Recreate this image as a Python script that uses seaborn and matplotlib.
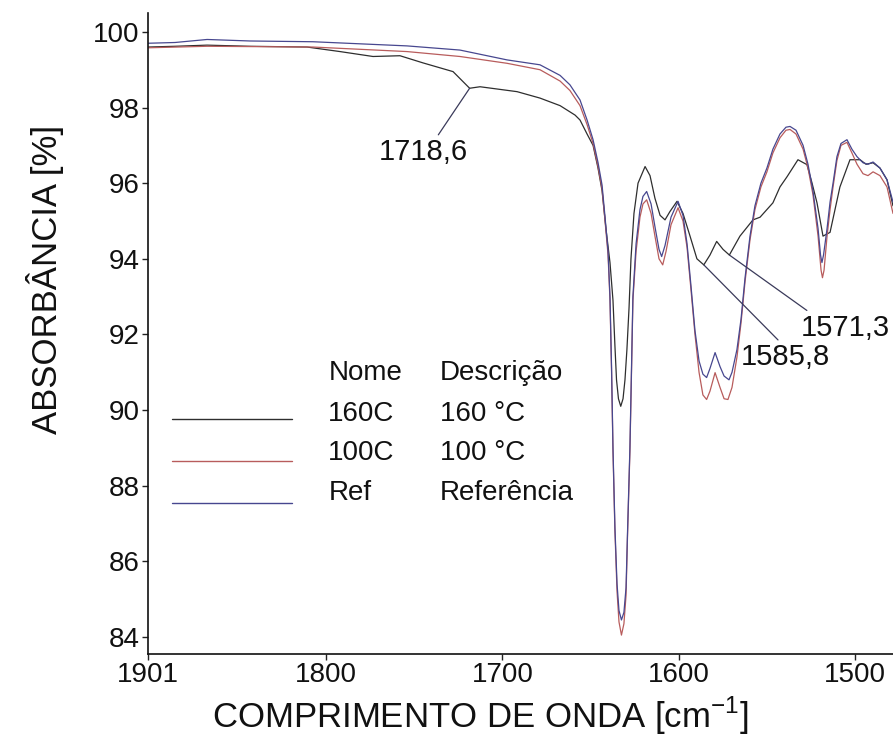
import numpy as np
import pandas as pd
import matplotlib
matplotlib.use("Agg")
import matplotlib.pyplot as plt
import seaborn as sns

# --- FTIR spectra (wavenumber in cm^-1, absorbance in %) ---
wn_160 = [1901.0, 1885.7, 1867.5, 1843.2, 1810.8, 1792.1, 1773.4, 1758.1, 1745.0, 1728.0,
          1718.6, 1712.7, 1691.7, 1678.7, 1667.3, 1658.8, 1656.0, 1652.0, 1648.6, 1645.8,
          1643.5, 1641.3, 1639.0, 1637.3, 1636.2, 1635.3, 1634.2, 1632.9, 1631.6, 1630.5,
          1629.4, 1628.2, 1627.1, 1625.4, 1623.1, 1619.1, 1616.3, 1613.5, 1610.6, 1607.8,
          1605.0, 1601.0, 1597.6, 1593.6, 1589.7, 1585.8, 1582.3, 1578.5, 1574.9, 1571.3,
          1565.3, 1557.9, 1553.9, 1546.6, 1542.6, 1538.6, 1532.4, 1527.3, 1524.4, 1521.6,
          1518.2, 1514.2, 1511.4, 1508.6, 1502.9, 1497.2, 1493.8, 1489.8, 1485.9, 1481.9,
          1478.5]
abs_160 = [99.60, 99.62, 99.65, 99.62, 99.60, 99.48, 99.35, 99.37, 99.18, 98.95,
           98.51, 98.55, 98.42, 98.25, 98.05, 97.80, 97.67, 97.30, 97.00, 96.40,
           95.80, 94.80, 93.90, 92.90, 91.70, 90.80, 90.30, 90.10, 90.30, 90.80,
           91.60, 92.70, 94.00, 95.20, 96.00, 96.44, 96.20, 95.60, 95.15, 95.03,
           95.25, 95.52, 95.20, 94.60, 94.00, 93.84, 94.10, 94.46, 94.25, 94.10,
           94.60, 95.03, 95.10, 95.48, 95.90, 96.17, 96.62, 96.49, 96.00, 95.48,
           94.60, 94.70, 95.30, 95.90, 96.62, 96.62, 96.50, 96.54, 96.40, 96.09,
           95.40]

wn_100 = [1901.0, 1867.5, 1807.4, 1754.1, 1724.1, 1697.4, 1678.7, 1667.3, 1661.7, 1656.0,
          1652.0, 1648.6, 1645.8, 1643.5, 1641.8, 1640.1, 1639.0, 1638.1, 1637.3, 1636.2,
          1635.0, 1633.9, 1632.5, 1631.1, 1629.9, 1629.1, 1627.7, 1626.8, 1626.0, 1624.2,
          1622.0, 1620.3, 1618.2, 1615.7, 1613.5, 1611.2, 1609.1, 1607.2, 1604.4, 1600.4,
          1597.6, 1595.3, 1593.1, 1590.8, 1588.5, 1586.3, 1584.2, 1582.3, 1579.4, 1576.6,
          1574.3, 1572.1, 1569.8, 1567.0, 1564.7, 1562.4, 1559.6, 1556.8, 1553.4, 1550.0,
          1546.6, 1542.6, 1539.2, 1536.9, 1533.5, 1529.5, 1526.7, 1523.9, 1521.0, 1519.3,
          1518.5, 1517.6, 1515.9, 1514.2, 1512.5, 1510.3, 1508.0, 1504.6, 1501.8, 1498.9,
          1495.5, 1492.7, 1489.8, 1485.9, 1481.9, 1478.5]
abs_100 = [99.58, 99.62, 99.60, 99.48, 99.35, 99.17, 99.00, 98.70, 98.45, 98.05,
           97.55, 97.05, 96.45, 95.85, 95.00, 94.10, 92.90, 91.00, 88.90, 86.80,
           85.20, 84.40, 84.05, 84.35, 85.10, 86.60, 88.90, 91.00, 92.90, 94.20,
           95.10, 95.45, 95.56, 95.20, 94.60, 94.00, 93.84, 94.20, 94.90, 95.35,
           95.00, 94.30, 93.20, 92.00, 91.00, 90.40, 90.28, 90.50, 90.99, 90.60,
           90.30, 90.28, 90.60, 91.40, 92.30, 93.40, 94.50, 95.30, 95.90, 96.30,
           96.80, 97.20, 97.40, 97.42, 97.30, 96.90, 96.40, 95.70, 94.60, 93.70,
           93.50, 93.70, 94.60, 95.30, 95.90, 96.60, 97.00, 97.08, 96.80, 96.50,
           96.25, 96.20, 96.30, 96.20, 95.90, 95.20]

wn_ref = [1901.0, 1885.7, 1867.5, 1843.2, 1807.4, 1754.1, 1724.1, 1697.4, 1678.7, 1667.3,
          1661.7, 1656.0, 1652.0, 1648.6, 1645.8, 1643.5, 1641.8, 1640.1, 1639.0, 1638.1,
          1637.3, 1636.2, 1635.0, 1633.9, 1632.5, 1631.1, 1629.9, 1629.1, 1627.7, 1626.8,
          1626.0, 1624.2, 1622.0, 1620.3, 1618.2, 1615.7, 1613.5, 1611.2, 1609.7, 1607.8,
          1604.4, 1600.4, 1597.6, 1595.3, 1593.1, 1590.8, 1588.5, 1586.3, 1584.2, 1582.3,
          1579.4, 1576.6, 1574.3, 1571.5, 1569.8, 1567.0, 1564.7, 1562.4, 1559.6, 1556.8,
          1553.4, 1550.0, 1546.6, 1542.6, 1539.2, 1536.9, 1533.5, 1529.5, 1526.7, 1523.9,
          1521.0, 1519.6, 1518.8, 1517.9, 1515.9, 1514.2, 1512.5, 1510.3, 1508.0, 1504.6,
          1501.8, 1498.9, 1495.5, 1492.7, 1489.8, 1485.9, 1481.9, 1478.5]
abs_ref = [99.70, 99.72, 99.80, 99.76, 99.74, 99.63, 99.52, 99.26, 99.13, 98.85,
           98.60, 98.20, 97.67, 97.15, 96.55, 95.95, 95.10, 94.20, 93.00, 91.10,
           89.00, 86.90, 85.40, 84.70, 84.45, 84.65, 85.30, 86.70, 89.00, 91.10,
           93.00, 94.40, 95.30, 95.65, 95.78, 95.45, 94.85, 94.25, 94.06, 94.35,
           95.10, 95.52, 95.15, 94.40, 93.30, 92.10, 91.30, 90.95, 90.86, 91.10,
           91.52, 91.15, 90.90, 90.80, 91.00, 91.60, 92.40, 93.50, 94.60, 95.40,
           96.00, 96.40, 96.90, 97.30, 97.48, 97.50, 97.40, 97.00, 96.50, 95.80,
           94.80, 94.10, 93.90, 94.10, 94.80, 95.50, 96.00, 96.70, 97.05, 97.15,
           96.90, 96.70, 96.54, 96.50, 96.56, 96.40, 96.09, 95.50]

sample_names = ["160C", "100C", "Ref"]
sample_desc = ["160 °C", "100 °C", "Referência"]
sample_colors = ["#2e2e2e", "#b85c5c", "#47478f"]

# labelled bands: (wavenumber, series index)
peak_wn = [1718.6, 1585.8, 1571.3]
peak_series = [0, 0, 0]
peak_labels = ["1718,6", "1585,8", "1571,3"]

x_ticks = [1901, 1800, 1700, 1600, 1500]
y_ticks = [84, 86, 88, 90, 92, 94, 96, 98, 100]

series_wn = [wn_160, wn_100, wn_ref]
series_abs = [abs_160, abs_100, abs_ref]

frames = []
for name, w, a in zip(sample_names, series_wn, series_abs):
    frames.append(pd.DataFrame({"wavenumber": w, "absorbance": a, "sample": name}))
df = pd.concat(frames, ignore_index=True)

sns.set_theme(style="ticks")
plt.rcParams["font.family"] = ["Liberation Sans", "DejaVu Sans"]

fig = plt.figure(figsize=(8.93, 7.51), dpi=100)
ax = fig.add_axes([148 / 893, 97 / 751, 745 / 893, 641 / 751])

sns.lineplot(data=df, x="wavenumber", y="absorbance", hue="sample",
             hue_order=sample_names, palette=sample_colors,
             sort=False, estimator=None, legend=False, linewidth=0.9, ax=ax)

ax.set_xlim(1901, 1478.5)
ax.set_ylim(83.55, 100.5)
ax.set_xticks(x_ticks)
ax.set_xticklabels([str(t) for t in x_ticks])
ax.set_yticks(y_ticks)
ax.set_yticklabels([str(t) for t in y_ticks])
ax.tick_params(axis="both", labelsize=20, length=4, width=1, color="#222222",
               pad=2, labelcolor="#111111")

for side in ["top", "right"]:
    ax.spines[side].set_visible(False)
for side in ["left", "bottom"]:
    ax.spines[side].set_color("#111111")
    ax.spines[side].set_linewidth(1.2)

ax.set_xlabel("COMPRIMENTO DE ONDA [cm$^{\\mathregular{-1}}$]", fontsize=25,
              color="#111111")
ax.xaxis.label.set_va("center")
ax.xaxis.set_label_coords(0.446, -0.097)
ax.set_ylabel("ABSORBÂNCIA [%]", fontsize=25, color="#111111")
ax.yaxis.label.set_va("center")
ax.yaxis.set_label_coords(-0.138, 0.585)

# band annotations
label_pos = [(0.370, 0.783), (0.856, 0.463), (0.936, 0.509)]
rel_pos = [(0.64, 1.0), (0.45, 1.0), (0.12, 1.0)]
for w, s, lab, pos, rp in zip(peak_wn, peak_series, peak_labels, label_pos, rel_pos):
    yv = np.interp(w, series_wn[s][::-1], series_abs[s][::-1])
    ax.annotate(lab, xy=(w, yv), xytext=pos, textcoords="axes fraction",
                ha="center", va="center", fontsize=21, color="#111111",
                arrowprops=dict(arrowstyle="-", color="#3a3a5a", lw=0.9,
                                relpos=rp, shrinkA=0, shrinkB=0))

# table-style legend
leg_fs = 20
ax.text(0.242, 0.438, "Nome", transform=ax.transAxes, fontsize=leg_fs,
        va="center", ha="left", color="#111111")
ax.text(0.392, 0.438, "Descrição", transform=ax.transAxes, fontsize=leg_fs,
        va="center", ha="left", color="#111111")
row_text_y = [0.375, 0.313, 0.251]
row_line_y = [0.367, 0.301, 0.236]
for name, desc, col, ty, ly in zip(sample_names, sample_desc, sample_colors,
                                   row_text_y, row_line_y):
    ax.plot([0.032, 0.193], [ly, ly], transform=ax.transAxes, color=col, lw=1.0,
            clip_on=False)
    ax.text(0.242, ty, name, transform=ax.transAxes, fontsize=leg_fs,
            va="center", ha="left", color="#111111")
    ax.text(0.392, ty, desc, transform=ax.transAxes, fontsize=leg_fs,
            va="center", ha="left", color="#111111")

fig.savefig("out.png", dpi=100, facecolor="white")
